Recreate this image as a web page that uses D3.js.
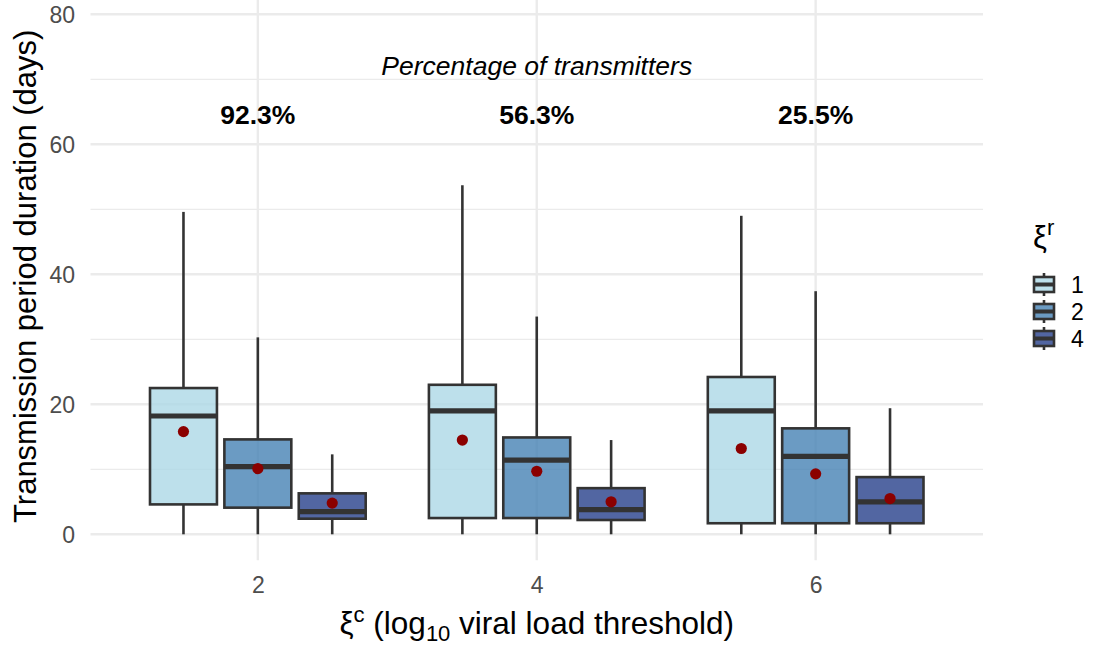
<!DOCTYPE html>
<html>
<head>
<meta charset="utf-8">
<script src="https://cdn.jsdelivr.net/npm/d3@7"></script>
<style>
  html, body { margin: 0; padding: 0; background: #ffffff; }
  svg { display: block; font-family: "Liberation Sans", Arial, sans-serif; }
</style>
</head>
<body>
<svg id="chart" width="1093" height="645"></svg>
<script>
// ---- data ----
const categories = ["2", "4", "6"];            // ξc
const groups = ["1", "2", "4"];                 // ξr
const groupColors = ["#ADD8E6", "#4682B4", "#27408B"];
// rows = categories, columns = groups
const whiskerHigh = [[49.6, 30.3, 12.3], [53.7, 33.5, 14.5], [49.0, 37.4, 19.4]];
const q3Values    = [[22.5, 14.6, 6.3],  [23.0, 14.9, 7.1],  [24.2, 16.3, 8.8]];
const medianVals  = [[18.2, 10.4, 3.5],  [19.0, 11.4, 3.8],  [19.0, 12.0, 5.0]];
const q1Values    = [[4.6, 4.1, 2.4],    [2.5, 2.5, 2.2],    [1.7, 1.7, 1.7]];
const whiskerLow  = [[0, 0, 0],          [0, 0, 0],          [0, 0, 0]];
const meanValues  = [[15.8, 10.1, 4.8],  [14.5, 9.7, 5.0],   [13.2, 9.3, 5.5]];
const percentLabels = ["92.3%", "56.3%", "25.5%"];
const percentY = 64.5;
const annotationTitle = "Percentage of transmitters";
const annotationY = 72;
const yTicks = [0, 20, 40, 60, 80];
const yMinorTicks = [10, 30, 50, 70];

// ---- layout ----
const svg = d3.select("#chart");
const panel = { left: 90.5, right: 983, top: -11.7, bottom: 560.3 };
const x = d3.scalePoint().domain(categories).range([panel.left, panel.right]).padding(0.6);
const y = d3.scaleLinear().domain([0, 80]).range([534.3, 14.3]);
const step = x.step();
const dodgeWidth = 0.8 * step;
const sub = d3.scaleBand().domain(groups).range([-dodgeWidth / 2, dodgeWidth / 2]);
const boxW = sub.bandwidth() * 0.9;

const grid = "#EBEBEB";
const ink = "#333333";
const lw = 2.6;

// minor grid
svg.append("g").selectAll("line").data(yMinorTicks).join("line")
  .attr("x1", panel.left).attr("x2", panel.right)
  .attr("y1", d => y(d)).attr("y2", d => y(d))
  .attr("stroke", grid).attr("stroke-width", 1.3);
// major grid
svg.append("g").selectAll("line").data(yTicks).join("line")
  .attr("x1", panel.left).attr("x2", panel.right)
  .attr("y1", d => y(d)).attr("y2", d => y(d))
  .attr("stroke", grid).attr("stroke-width", 2.4);
svg.append("g").selectAll("line").data(categories).join("line")
  .attr("x1", d => x(d)).attr("x2", d => x(d))
  .attr("y1", panel.top).attr("y2", panel.bottom)
  .attr("stroke", grid).attr("stroke-width", 2.4);

// y axis labels
const yAxis = d3.axisLeft(y).tickValues(yTicks).tickSize(0).tickPadding(0);
const yg = svg.append("g").attr("transform", "translate(75,0)").call(yAxis);
yg.select(".domain").remove();
yg.selectAll("text").attr("fill", "#4D4D4D").style("font-size", "23px")
  .attr("dy", "0.36em").attr("x", 0).attr("font-family", "Liberation Sans, Arial, sans-serif");

// x axis labels
const xAxis = d3.axisBottom(x).tickSize(0).tickPadding(0);
const xg = svg.append("g").attr("transform", "translate(0,593)").call(xAxis);
xg.select(".domain").remove();
xg.selectAll("text").attr("fill", "#4D4D4D").style("font-size", "23px")
  .attr("dy", 0).attr("y", 0).attr("font-family", "Liberation Sans, Arial, sans-serif");

// boxes
const boxes = [];
categories.forEach((c, i) => groups.forEach((g, j) => {
  boxes.push({ c, g, j,
    hi: whiskerHigh[i][j], q3: q3Values[i][j], med: medianVals[i][j],
    q1: q1Values[i][j], lo: whiskerLow[i][j], mean: meanValues[i][j] });
}));
const cx = d => x(d.c) + sub(d.g) + sub.bandwidth() / 2;

const bg = svg.append("g");
const b = bg.selectAll("g").data(boxes).join("g");
b.append("line").attr("x1", cx).attr("x2", cx)
  .attr("y1", d => y(d.hi)).attr("y2", d => y(d.q3))
  .attr("stroke", ink).attr("stroke-width", lw);
b.append("line").attr("x1", cx).attr("x2", cx)
  .attr("y1", d => y(d.q1)).attr("y2", d => y(d.lo))
  .attr("stroke", ink).attr("stroke-width", lw);
b.append("rect")
  .attr("x", d => cx(d) - boxW / 2).attr("width", boxW)
  .attr("y", d => y(d.q3)).attr("height", d => y(d.q1) - y(d.q3))
  .attr("fill", d => groupColors[d.j]).attr("fill-opacity", 0.8)
  .attr("stroke", ink).attr("stroke-width", lw);
b.append("line")
  .attr("x1", d => cx(d) - boxW / 2).attr("x2", d => cx(d) + boxW / 2)
  .attr("y1", d => y(d.med)).attr("y2", d => y(d.med))
  .attr("stroke", ink).attr("stroke-width", 5.2);
b.append("circle").attr("cx", cx).attr("cy", d => y(d.mean)).attr("r", 5.6)
  .attr("fill", "#8B0000");

// annotations
svg.append("text").attr("x", x(categories[1])).attr("y", y(annotationY))
  .attr("text-anchor", "middle").attr("dominant-baseline", "central")
  .style("font-size", "26.5px").style("font-style", "italic").attr("fill", "#000")
  .text(annotationTitle);
svg.append("g").selectAll("text").data(categories).join("text")
  .attr("x", d => x(d)).attr("y", y(percentY))
  .attr("text-anchor", "middle").attr("dominant-baseline", "central")
  .style("font-size", "26.5px").style("font-weight", "bold").attr("fill", "#000")
  .text((d, i) => percentLabels[i]);

// axis titles
const yt = svg.append("text")
  .attr("transform", `translate(36,${(y(0) + y(80)) / 2 + 2}) rotate(-90)`)
  .attr("text-anchor", "middle").style("font-size", "31px").attr("fill", "#000");
yt.text("Transmission period duration (days)");

const xt = svg.append("text").attr("x", x(categories[1])).attr("y", 634)
  .attr("text-anchor", "middle").style("font-size", "31.5px").attr("fill", "#000");
xt.append("tspan").text("ξ");
xt.append("tspan").attr("dy", -12).style("font-size", "22px").text("c");
xt.append("tspan").attr("dy", 12).text(" (log");
xt.append("tspan").attr("dy", 7).style("font-size", "22px").text("10");
xt.append("tspan").attr("dy", -7).text(" viral load threshold)");

// legend
const lg = svg.append("g").attr("transform", "translate(1033,0)");
const lt = lg.append("text").attr("x", 0).attr("y", 248).style("font-size", "31px").attr("fill", "#000");
lt.append("tspan").text("ξ");
lt.append("tspan").attr("dy", -13).style("font-size", "22px").text("r");

const keyH = 27, keyTop = 271, keyW = 20;
const keys = lg.selectAll("g.key").data(groups).join("g").attr("class", "key")
  .attr("transform", (d, i) => `translate(0,${keyTop + i * keyH})`);
keys.append("line").attr("x1", keyW / 2 + 1).attr("x2", keyW / 2 + 1)
  .attr("y1", 2).attr("y2", keyH - 2).attr("stroke", ink).attr("stroke-width", lw);
keys.append("rect").attr("x", 1).attr("y", 6).attr("width", keyW).attr("height", keyH - 12)
  .attr("fill", "#fff").attr("stroke", "none");
keys.append("rect").attr("x", 1).attr("y", 6).attr("width", keyW).attr("height", keyH - 12)
  .attr("fill", (d, i) => groupColors[i]).attr("fill-opacity", 0.8)
  .attr("stroke", ink).attr("stroke-width", lw);
keys.append("line").attr("x1", 1).attr("x2", keyW + 1)
  .attr("y1", keyH / 2).attr("y2", keyH / 2).attr("stroke", ink).attr("stroke-width", 4);
keys.append("text").attr("x", 38).attr("y", keyH / 2).attr("dy", "0.36em")
  .style("font-size", "23px").attr("fill", "#000").text(d => d);
</script>
</body>
</html>
